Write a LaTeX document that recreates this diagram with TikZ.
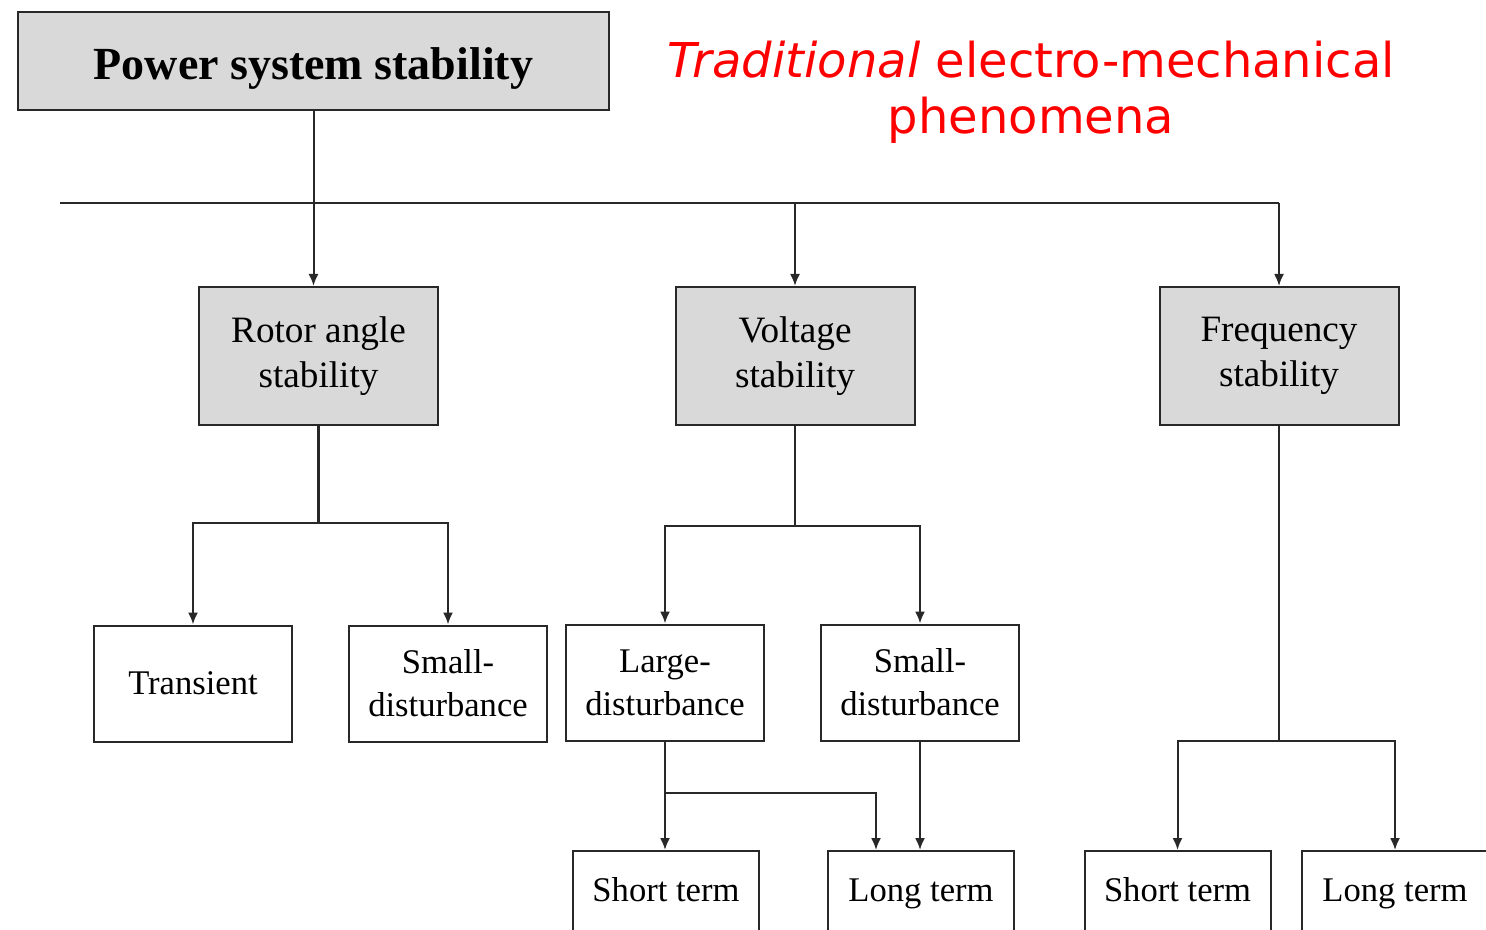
\documentclass[tikz,border=0pt]{standalone}
\usepackage{fontspec}
\setmainfont{Liberation Serif}
\newfontfamily\redfont{DejaVu Sans}
\usepackage{tikz}
\usetikzlibrary{arrows.meta}
\definecolor{boxgray}{RGB}{217,217,217}
\definecolor{linegray}{RGB}{40,40,40}
\definecolor{myred}{RGB}{255,0,0}

\begin{document}
\begin{tikzpicture}[x=0.5pt, y=-0.5pt, >={Latex[length=6pt,width=5pt]}, line width=1pt, draw=linegray,
	box/.style={draw=linegray, fill=boxgray, align=center, inner sep=0pt, minimum width=119.5pt, minimum height=69pt, font=\fontsize{18.6}{22.5}\selectfont},
	leaf/.style={draw=linegray, fill=white, align=center, inner sep=0pt, minimum width=99pt, minimum height=58pt, font=\fontsize{17.3}{21.5}\selectfont},
	term/.style={leaf, minimum width=93pt, minimum height=42pt, text height=12pt, text depth=4pt}]
			% Bildbereich
			\useasboundingbox (0,0) rectangle (1486,930);
			\clip (0,0) rectangle (1486,930);
			% Kaesten
			\node[box, minimum width=295.5pt, minimum height=49pt, text height=19pt, text depth=0pt, font=\bfseries\fontsize{23}{27}\selectfont] (psys) at (313.5,61) {Power system stability};
			\node[myred, align=center, font=\redfont\fontsize{24}{28}\selectfont] (note) at (1031,92) {\textit{Traditional} electro-mechanical\\phenomena};
			\node[box] (rotor) at (318.5,356) {Rotor angle\\stability};
			\node[box] (volt) at (795,356) {Voltage\\stability};
			\node[box] (freq) at (1279,356) {Frequency\\stability};
			\node[leaf] (trans) at (193,683.5) {Transient};
			\node[leaf] (rsmall) at (448,683.5) {Small-\\disturbance};
			\node[leaf] (vlarge) at (665,682.5) {Large-\\disturbance};
			\node[leaf] (vsmall) at (920,682.5) {Small-\\disturbance};
			\node[term] (vshort) at (666,893) {Short term};
			\node[term] (vlong) at (921,893) {Long term};
			\node[term] (fshort) at (1177.5,893) {Short term};
			\node[term] (flong) at (1395,893) {Long term};
			% Verbindungen
			\coordinate (busL) at (60,203);
			\draw (psys.south) -- (psys.south |- busL);
			\draw (busL) -- (freq.north |- busL);
			\draw[->] (psys.south |- busL) -- (psys.south |- rotor.north);
			\draw[->] (volt.north |- busL) -- (volt.north);
			\draw[->] (freq.north |- busL) -- (freq.north);
			% Rotorwinkel
			\coordinate (rbar) at (320,523);
			\draw[line width=1.6pt] (rotor.south) -- (rotor.south |- rbar);
			\draw[->] (rotor.south |- rbar) -| (trans.north);
			\draw[->] (rotor.south |- rbar) -| (rsmall.north);
			% Spannung
			\coordinate (vbar) at (793,526);
			\draw (volt.south) -- (volt.south |- vbar);
			\draw[->] (volt.south |- vbar) -| (vlarge.north);
			\draw[->] (volt.south |- vbar) -| (vsmall.north);
			\coordinate (lbar) at (667,793);
			\draw[->] (vlarge.south) -- (vlarge.south |- vshort.north);
			\draw[->] (vlarge.south |- lbar) -| ([xshift=-22.5pt]vlong.north);
			\draw[->] (vsmall.south) -- (vsmall.south |- vlong.north);
			% Frequenz
			\coordinate (fbar) at (1279,741);
			\draw (freq.south) -- (fbar);
			\draw[->] (fbar) -| (fshort.north);
			\draw[->] (fbar) -| (flong.north);
		\end{tikzpicture}
\end{document}
